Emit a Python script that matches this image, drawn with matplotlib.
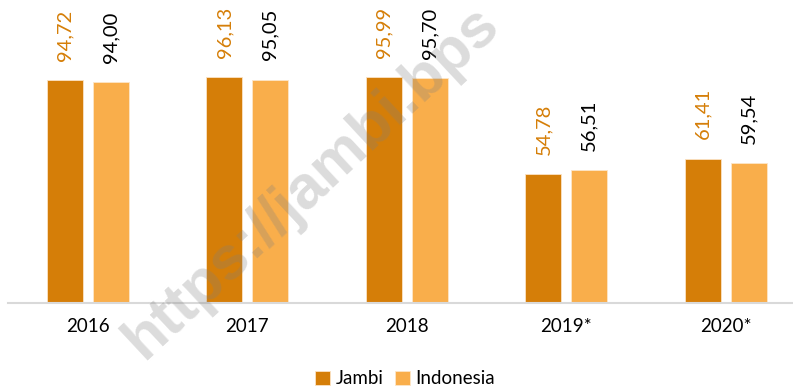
import matplotlib.pyplot as plt
import numpy as np

plt.rcParams['font.family'] = ['Lato', 'DejaVu Sans']

years = ['2016', '2017', '2018', '2019*', '2020*']
jambi = [94.72, 96.13, 95.99, 54.78, 61.41]
indonesia = [94.00, 95.05, 95.70, 56.51, 59.54]

c_jambi = '#D57E08'
c_indo = '#F9AE4B'

W, H = 793, 391
fig = plt.figure(figsize=(W / 100, H / 100), dpi=100)

# plot area in pixels: baseline at y=303, categories 159.5 px wide starting at x=8
left, base, cat_w = 8, 303, 159.5
ax = fig.add_axes([left / W, 1 - base / H, 5 * cat_w / W, 300 / H])

x = np.arange(len(years))
bw = 0.225
b1 = ax.bar(x - 0.143, jambi, bw, color=c_jambi, edgecolor='#FBE3C4', linewidth=0.6)
b2 = ax.bar(x + 0.143, indonesia, bw, color=c_indo, edgecolor='#FDE6C8', linewidth=0.6)

for rect, v in zip(b1, jambi):
    ax.annotate(f'{v:.2f}'.replace('.', ','), (rect.get_x() + rect.get_width() / 2, v),
                xytext=(0, 14), textcoords='offset points', rotation=90,
                ha='center', va='bottom', fontsize=14.5, color=c_jambi)
for rect, v in zip(b2, indonesia):
    ax.annotate(f'{v:.2f}'.replace('.', ','), (rect.get_x() + rect.get_width() / 2, v),
                xytext=(0, 14), textcoords='offset points', rotation=90,
                ha='center', va='bottom', fontsize=14.5, color='black')

ax.set_xlim(-0.5, 4.5)
ax.set_ylim(0, 127.7)
ax.set_xticks(x)
ax.set_xticklabels(years, fontsize=13.5)
ax.tick_params(axis='x', length=0, pad=11)
ax.set_yticks([])
for s in ['top', 'right', 'left']:
    ax.spines[s].set_visible(False)
ax.spines['bottom'].set_color('#D9D9D9')
ax.spines['bottom'].set_linewidth(1.5)
ax.patch.set_alpha(0)

fig.legend([b1, b2], ['Jambi', 'Indonesia'], loc='center', bbox_to_anchor=(405 / W, 1 - 379 / H),
           ncol=2, frameon=False, fontsize=13.5, handlelength=0.8, handleheight=0.8,
           handletextpad=0.3, columnspacing=0.6)

# site watermark across the plot
fig.text(144 / W, 1 - 360 / H, 'https://jambi.bps', rotation=43, rotation_mode='anchor',
         ha='left', va='baseline', fontsize=44, fontweight='bold', color='#808080',
         alpha=0.28, family='Liberation Sans', clip_on=False)

fig.savefig('out.png', dpi=100)
